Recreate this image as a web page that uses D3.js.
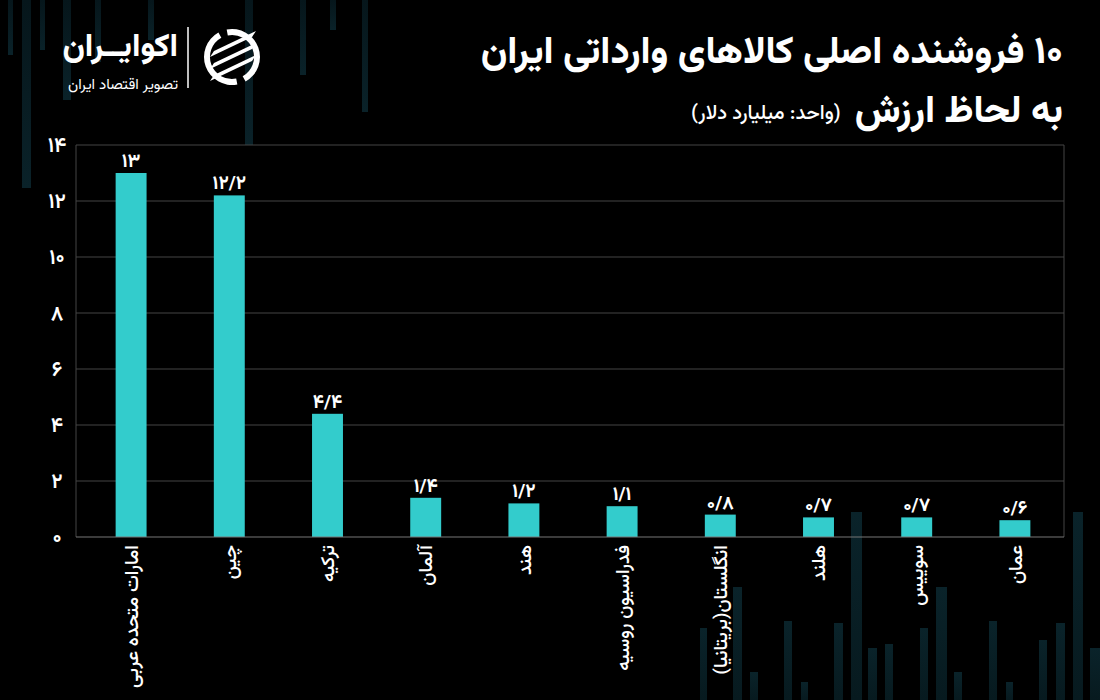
<!DOCTYPE html>
<html><head><meta charset="utf-8">
<script src="https://cdn.jsdelivr.net/npm/d3@7/dist/d3.min.js"></script>
<style>
html,body{margin:0;padding:0;background:#000;}
svg{display:block;}
text{font-family:"Vazirmatn","Noto Sans Arabic","DejaVu Sans",sans-serif;fill:#fff;}
</style></head>
<body>
<svg id="chart" width="1100" height="700"></svg>
<script>
// ---- data ----
const categories = ["امارات متحده عربی","چین","ترکیه","آلمان","هند","فدراسیون روسیه","انگلستان(بریتانیا)","هلند","سوییس","عمان"];
const values = [13, 12.2, 4.4, 1.4, 1.2, 1.1, 0.8, 0.7, 0.7, 0.6];
const yTicks = [0, 2, 4, 6, 8, 10, 12, 14];
const titleLine1 = "۱۰ فروشنده اصلی کالاهای وارداتی ایران";
const titleLine2 = "به لحاظ ارزش";
const unitText = "(واحد: میلیارد دلار)";
const brandName = "اکوایــران";
const brandTag = "تصویر اقتصاد ایران";

const fa = s => String(s).replace(/\./g, "/").replace(/[0-9]/g, d => "۰۱۲۳۴۵۶۷۸۹"[d]);

const svg = d3.select("#chart");
const W = 1100, H = 700;
svg.append("rect").attr("width", W).attr("height", H).attr("fill", "#000");

// ---- faint background decoration ----
const defs = svg.append("defs");
const gTop = defs.append("linearGradient").attr("id", "gTop").attr("x1", 0).attr("y1", 0).attr("x2", 0).attr("y2", 1);
gTop.append("stop").attr("offset", "0%").attr("stop-color", "#06161b");
gTop.append("stop").attr("offset", "100%").attr("stop-color", "#0a2229");
const gBot = defs.append("linearGradient").attr("id", "gBot").attr("x1", 0).attr("y1", 0).attr("x2", 0).attr("y2", 1);
gBot.append("stop").attr("offset", "0%").attr("stop-color", "#0a232a");
gBot.append("stop").attr("offset", "100%").attr("stop-color", "#071a1f");
const decoTop = [[8,55,5],[22,188,9],[40,50,5],[63,100,8],[95,62,6],[148,40,6],[245,145,8],[300,75,6],[330,30,6],[362,112,6]];
const decoBot = [[700,628,7],[733,587,9],[750,672,8],[784,621,8],[801,682,7],[834,623,9],[851,512,11],[868,648,9],[885,644,8],[920,628,8],[936,587,11],[954,672,8],[989,621,8],[1006,682,7],[1039,640,8],[1056,623,9],[1073,512,10],[1090,648,10]];
const deco = svg.append("g");
deco.selectAll("rect.t").data(decoTop).join("rect").attr("class","t")
  .attr("x", d => d[0]).attr("y", 0).attr("width", d => d[2]).attr("height", d => d[1]).attr("fill", "url(#gTop)");
deco.selectAll("rect.b").data(decoBot).join("rect").attr("class","b")
  .attr("x", d => d[0]).attr("y", d => d[1]).attr("width", d => d[2]).attr("height", d => H - d[1]).attr("fill", "url(#gBot)");

// ---- scales ----
const plot = {left: 76, right: 1064, top: 145, bottom: 537};
const x = d3.scaleBand().domain(categories).range([plot.left + 6, plot.right]).paddingInner(0.685).paddingOuter(0.3425);
const y = d3.scaleLinear().domain([0, 14]).range([plot.bottom, plot.top]);

// gridlines
const grid = svg.append("g");
grid.selectAll("line.h").data(yTicks.filter(t => t > 0)).join("line").attr("class","h")
  .attr("x1", plot.left).attr("x2", plot.right).attr("y1", d => y(d)).attr("y2", d => y(d))
  .attr("stroke", "#444").attr("stroke-width", 1);
grid.append("line").attr("x1", plot.left).attr("x2", plot.left).attr("y1", plot.top).attr("y2", plot.bottom).attr("stroke", "#444");
grid.append("line").attr("x1", plot.right).attr("x2", plot.right).attr("y1", plot.top).attr("y2", plot.bottom).attr("stroke", "#444");

// y axis labels
const yAxis = d3.axisLeft(y).tickValues(yTicks).tickSize(0).tickPadding(0).tickFormat(fa);
const ya = svg.append("g").attr("transform", `translate(57,0)`).call(yAxis);
ya.select(".domain").remove();
ya.selectAll("text").attr("text-anchor", "middle").attr("font-size", 21).attr("font-weight", 600).attr("fill", "#fff").attr("dy", "0.3em");

// bars
svg.append("g").selectAll("rect").data(values).join("rect")
  .attr("x", (d, i) => x(categories[i])).attr("width", x.bandwidth())
  .attr("y", d => y(d)).attr("height", d => y(0) - y(d))
  .attr("fill", "#33cccc");

// bottom axis
const xAxis = d3.axisBottom(x).tickSize(0).tickPadding(0).tickFormat(d => d);
const xa = svg.append("g").attr("transform", `translate(0,${plot.bottom})`).call(xAxis);
xa.select(".domain").attr("d", `M${plot.left},0H${plot.right}`).attr("stroke", "#777");
xa.selectAll("text")
  .attr("font-size", 19).attr("fill", "#fff").attr("font-weight", 500)
  .attr("text-anchor", "end").attr("transform", "translate(0,8) rotate(-90)")
  .attr("x", 0).attr("y", 0).attr("dy", "0.35em");

// value labels
svg.append("g").selectAll("text").data(values).join("text")
  .attr("x", (d, i) => x(categories[i]) + x.bandwidth() / 2).attr("y", d => y(d) - 6)
  .attr("text-anchor", "middle").attr("font-size", 19).attr("font-weight", 700)
  .text(d => fa(d));

// titles
svg.append("text").attr("x", 1063).attr("y", 63).attr("direction", "rtl").attr("text-anchor", "start")
  .attr("font-size", 38).attr("font-weight", 800).text(titleLine1);
const t2 = svg.append("text").attr("x", 1063).attr("y", 122).attr("direction", "rtl").attr("text-anchor", "start")
  .attr("font-size", 38).attr("font-weight", 800).text(titleLine2);
const t2w = t2.node().getComputedTextLength();
svg.append("text").attr("x", 1063 - t2w - 14).attr("y", 119).attr("direction", "rtl").attr("text-anchor", "start")
  .attr("font-size", 20).attr("font-weight", 500).text(unitText);

// ---- logo ----
const logo = svg.append("g");
logo.append("text").attr("x", 178).attr("y", 56).attr("direction", "rtl").attr("text-anchor", "start")
  .attr("font-size", 32).attr("font-weight", 800).text(brandName);
logo.append("text").attr("x", 178).attr("y", 89).attr("direction", "rtl").attr("text-anchor", "start")
  .attr("font-size", 15).attr("font-weight", 400).text(brandTag);
logo.append("line").attr("x1", 188).attr("x2", 188).attr("y1", 27).attr("y2", 88).attr("stroke", "#fff").attr("stroke-width", 1.5);
const ic = logo.append("g").attr("transform", "translate(232,57)");
ic.append("path").attr("d", d3.arc()({innerRadius: 22, outerRadius: 28, startAngle: -Math.PI * 0.05, endAngle: -Math.PI * 0.95}))
  .attr("fill", "#fff").attr("transform", "rotate(-20)");
ic.append("path").attr("d", d3.arc()({innerRadius: 22, outerRadius: 28, startAngle: Math.PI * 0.05, endAngle: Math.PI * 0.95}))
  .attr("fill", "#fff").attr("transform", "rotate(-20)");
[-14, -2, 10].forEach(o => {
  ic.append("path").attr("d", `M-18,${o + 8} L24,${o - 12} L20,${o - 6} L-22,${o + 14} Z`).attr("fill", "#fff");
});
</script>
</body></html>
